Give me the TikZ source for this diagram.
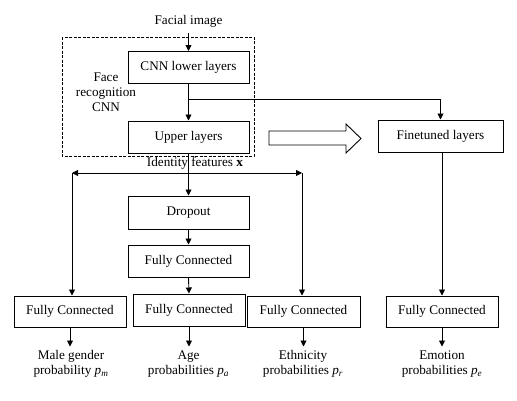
\documentclass[tikz,border=0pt]{standalone}
\usepackage{fontspec}
\setmainfont{Liberation Serif}
\usetikzlibrary{arrows.meta}
\begin{document}
\begin{tikzpicture}[x=1pt,y=-1pt,
  box/.style={draw,line width=1pt,minimum height=32pt,inner sep=0pt,font=\fontsize{13.2}{15}\selectfont},
  lbl/.style={align=center,inner sep=0pt,font=\fontsize{13.2}{15}\selectfont},
  arr/.style={line width=0.9pt,-{Triangle[length=6pt,width=6pt]}},
  ln/.style={line width=0.9pt}]
\useasboundingbox (0,0) rectangle (517,400);
% dashed frame
\draw[dash pattern=on 3pt off 1.5pt,line width=0.9pt] (62,37) rectangle (254,156);
\node[lbl] (face) at (106,92) {Face\\recognition\\CNN};
\node[lbl] (img) at (188.5,21) {Facial image};
\node[box,minimum width=121pt] (lower) at (188.5,67.5) {CNN lower layers};
\node[box,minimum width=121pt] (upper) at (188.5,137) {Upper layers};
\node[box,minimum width=125pt] (fine) at (440.5,136) {Finetuned layers};
\node[box,minimum width=121pt,minimum height=33pt] (drop) at (188.5,212.5) {Dropout};
\node[box,minimum width=121pt] (fcmid) at (188.5,261) {Fully Connected};
\node[box,minimum width=112pt] (fcage) at (189,310) {Fully Connected};
\node[box,minimum width=112pt,minimum height=31pt] (fcmale) at (70,311.5) {Fully Connected};
\node[box,minimum width=113pt,minimum height=31pt] (fceth) at (303.5,311.5) {Fully Connected};
\node[box,minimum width=112pt,minimum height=31pt] (fcemo) at (442,311.5) {Fully Connected};
\node[lbl] (idf) at (195,163) {Identity features \textbf{x}};
% hollow arrow
\draw[line width=0.9pt] (269,131) -- (346,131) -- (346,124) -- (361,138.5) -- (346,153) -- (346,145) -- (269,145) -- cycle;
% connectors
\coordinate (imgb) at (188.5,33);
\draw[arr] (imgb) -- (lower.north);
\draw[arr] (lower.south) -- (upper.north);
\coordinate (br) at (188.5,99);
\draw[arr] (br) -| (fine.north);
\draw[arr] (upper.south) -- (drop.north);
\coordinate (idc) at (188.5,173);
\coordinate (idl) at (72,173);
\coordinate (idr) at (302,173);
\draw[arr] (idc) -- (idl);
\draw[arr] (idc) -- (idr);
\draw[arr] (idl) -- (idl |- fcmale.north);
\draw[arr] (idr) -- (idr |- fceth.north);
\draw[arr] (drop.south) -- (fcmid.north);
\draw[arr] (fcmid.south) -- (fcage.north);
\draw[arr] (fine.south -| fcemo.north) -- (fcemo.north);
% outputs
\node[lbl] (omale) at (71,364) {Male gender\\probability \textit{p}\textsubscript{\textit{m}}};
\node[lbl] (oage) at (188.5,364) {Age\\probabilities \textit{p}\textsubscript{\textit{a}}};
\node[lbl] (oeth) at (303,364) {Ethnicity\\probabilities \textit{p}\textsubscript{\textit{r}}};
\node[lbl] (oemo) at (442,364) {Emotion\\probabilities \textit{p}\textsubscript{\textit{e}}};
\draw[arr] (fcmale.south) -- ++(0,19);
\draw[arr] (fcage.south) -- ++(0,20);
\draw[arr] (fceth.south) -- ++(0,19);
\draw[arr] (fcemo.south) -- ++(0,19);
\end{tikzpicture}
\end{document}
